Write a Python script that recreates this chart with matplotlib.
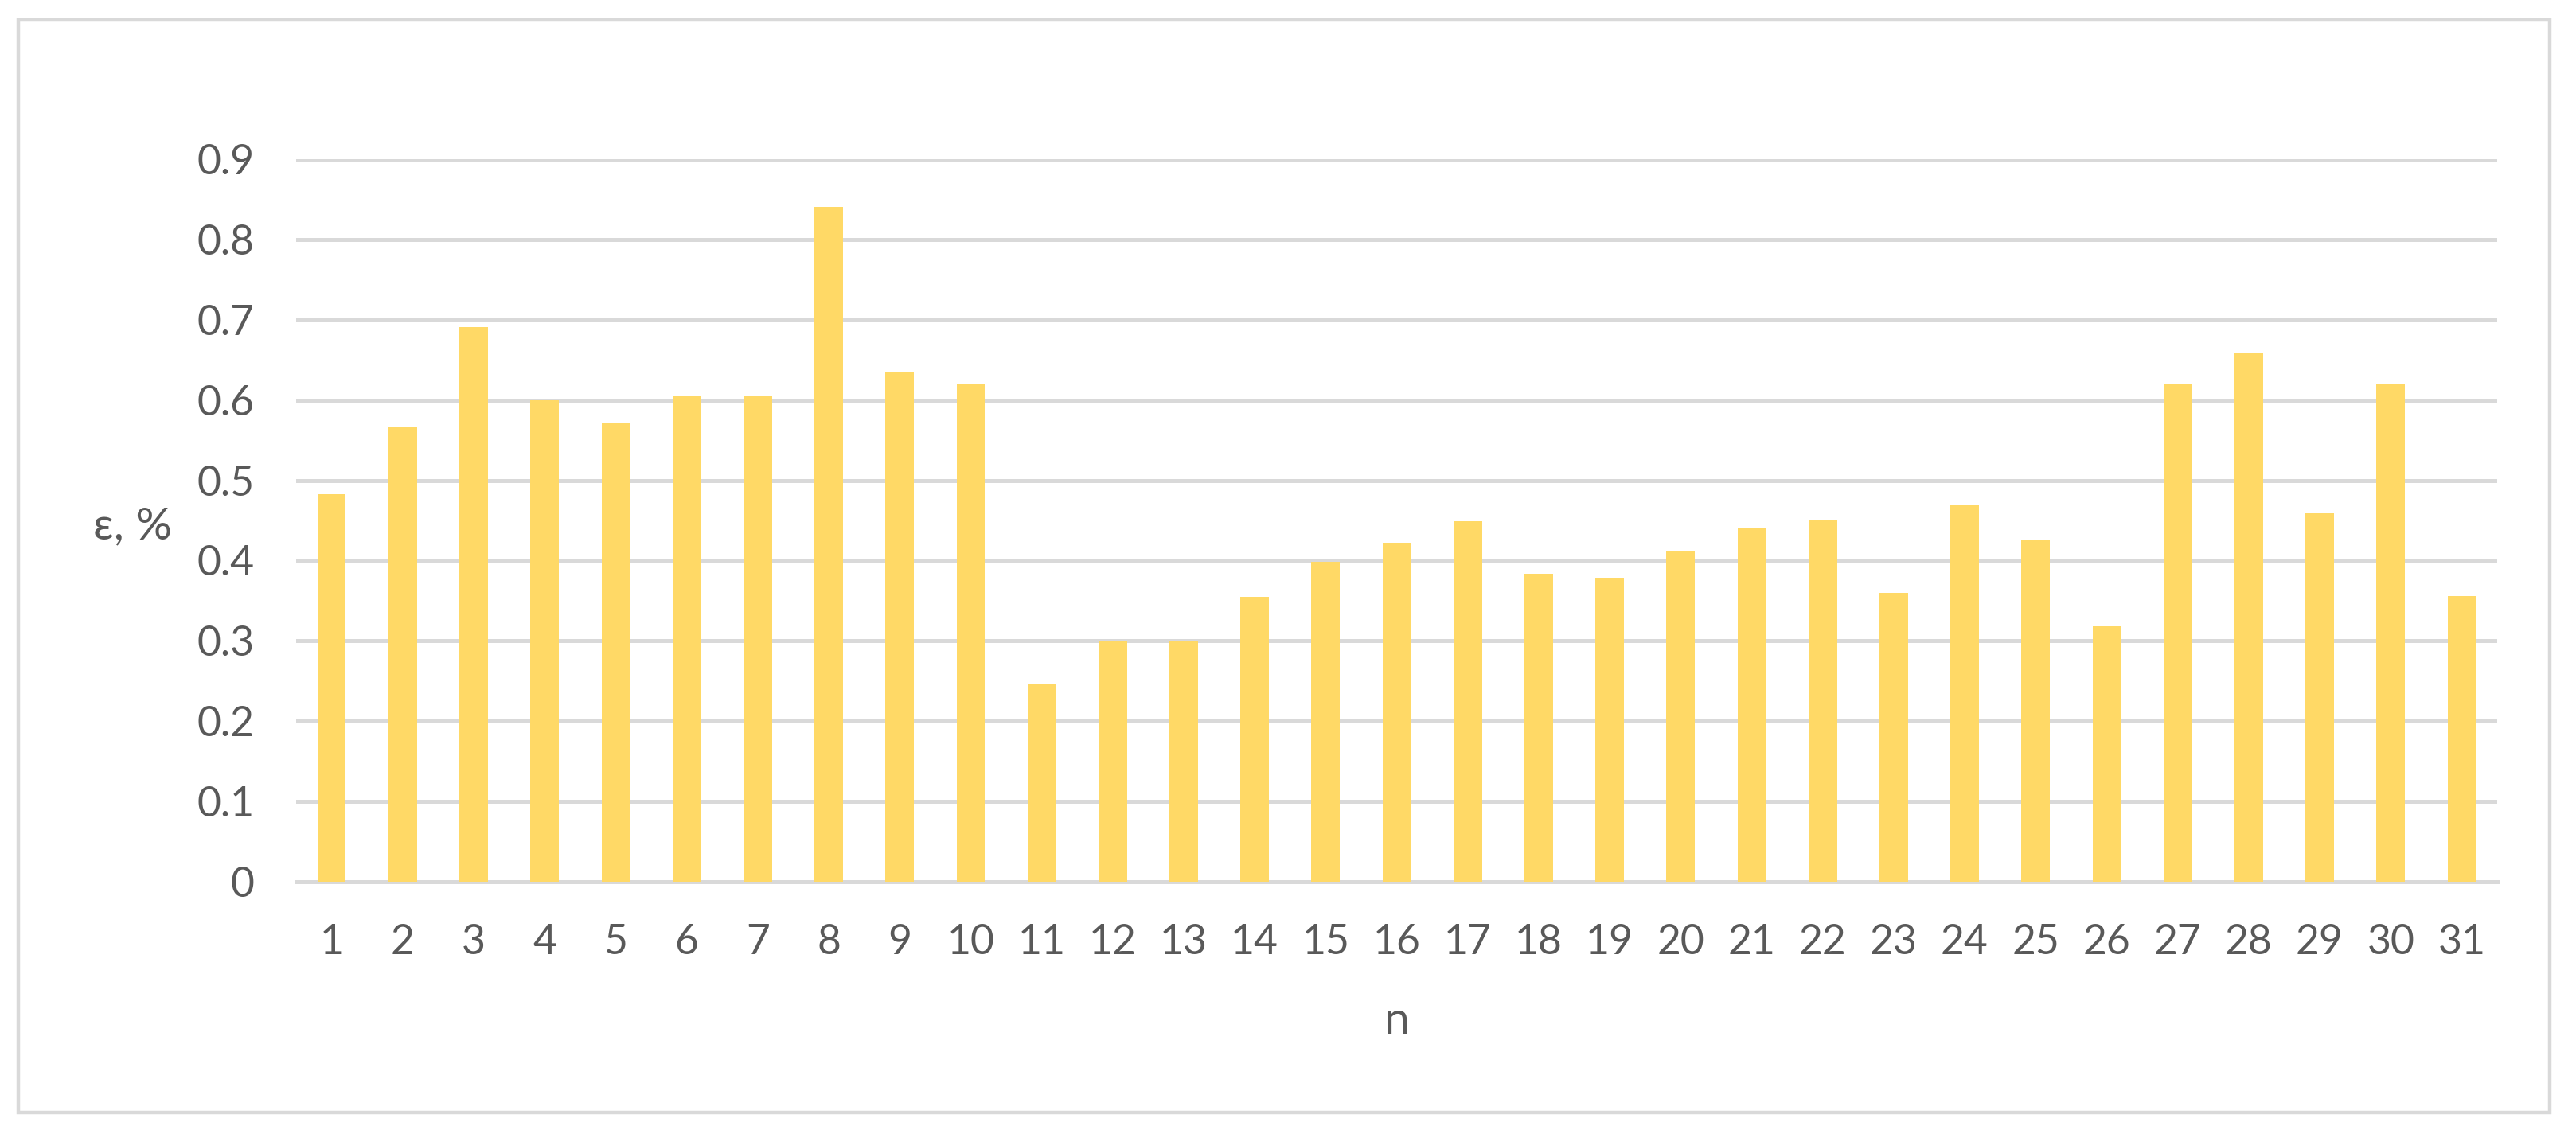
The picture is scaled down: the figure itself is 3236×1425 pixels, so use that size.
import matplotlib
matplotlib.use("Agg")
import matplotlib.pyplot as plt
from matplotlib.patches import Rectangle

# data
n_labels = [str(i) for i in range(1, 32)]
eps_values = [0.483, 0.567, 0.691, 0.600, 0.572, 0.605, 0.605, 0.841, 0.634, 0.619,
              0.247, 0.299, 0.299, 0.355, 0.398, 0.422, 0.449, 0.384, 0.379, 0.412,
              0.440, 0.450, 0.360, 0.469, 0.426, 0.318, 0.619, 0.658, 0.459, 0.619,
              0.356]
y_ticks = [0, 0.1, 0.2, 0.3, 0.4, 0.5, 0.6, 0.7, 0.8, 0.9]
y_tick_labels = ["0", "0.1", "0.2", "0.3", "0.4", "0.5", "0.6", "0.7", "0.8", "0.9"]

bar_color = "#FFD966"
grid_color = "#D9D9D9"
text_color = "#595959"

plt.rcParams['font.family'] = ['Lato', 'DejaVu Sans']

fig = plt.figure(figsize=(16.18, 7.125), dpi=200)
ax = fig.add_axes([372 / 3236, 1 - 1108 / 1425, 2765 / 3236, 908 / 1425])

x = list(range(len(eps_values)))
ax.bar(x, eps_values, width=0.4, color=bar_color, zorder=3)

ax.set_xlim(-0.5, len(eps_values) - 0.5)
ax.set_ylim(0, 0.9)
ax.set_xticks(x)
ax.set_xticklabels(n_labels)
ax.set_yticks(y_ticks)
ax.set_yticklabels(y_tick_labels)
ax.tick_params(axis='both', length=0, labelsize=18.6, colors=text_color)
ax.tick_params(axis='x', pad=19)
ax.tick_params(axis='y', pad=19)

ax.yaxis.grid(True, color=grid_color, linewidth=1.8, zorder=0)
ax.set_axisbelow(True)
for side in ['top', 'right', 'left']:
    ax.spines[side].set_visible(False)
ax.spines['bottom'].set_color(grid_color)
ax.spines['bottom'].set_linewidth(1.8)

ax.set_xlabel("n", fontsize=20.5, color=text_color, va='baseline')
ax.xaxis.set_label_coords(0.5, -0.2104)
ax.set_ylabel("ε, %", fontsize=20.5, color=text_color, rotation=0,
              ha='center', va='baseline')
ax.yaxis.set_label_coords(-0.0745, 0.4747)

# chart frame
fig.patches.append(Rectangle((23 / 3236, 1 - 1398 / 1425), 3180 / 3236, 1373 / 1425,
                             transform=fig.transFigure, fill=False,
                             edgecolor=grid_color, linewidth=1.6))

fig.savefig("out.png", dpi=200, facecolor="white")
